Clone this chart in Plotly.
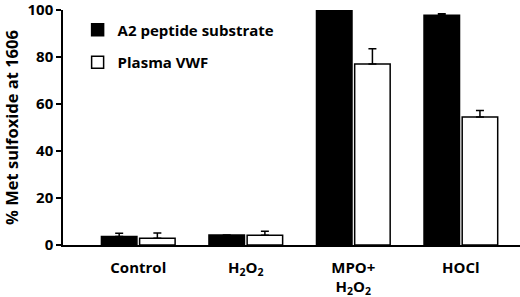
import plotly.graph_objects as go

categories = ["Control", "H<sub>2</sub>O<sub>2</sub>", "MPO+<br>H<sub>2</sub>O<sub>2</sub>", "HOCl"]
a2_values = [3.6, 4.3, 100.0, 97.8]
a2_errors = [1.4, 0.0, 0.0, 0.6]
vwf_values = [2.9, 4.2, 77.0, 54.5]
vwf_errors = [2.2, 1.6, 6.5, 2.7]
y_ticks = [0, 20, 40, 60, 80, 100]

FONT = "Open Sans"

fig = go.Figure()
fig.add_trace(go.Bar(
    x=categories, y=a2_values, name="A2 peptide substrate",
    marker=dict(color="black", line=dict(color="black", width=1.5)),
    error_y=dict(type="data", array=a2_errors, arrayminus=[0]*4, symmetric=False,
                 color="black", thickness=1.5, width=4),
    legendgroup="a",
))
fig.add_trace(go.Bar(
    x=categories, y=vwf_values, name="Plasma VWF",
    marker=dict(color="white", line=dict(color="black", width=1.5)),
    error_y=dict(type="data", array=vwf_errors, arrayminus=[0]*4, symmetric=False,
                 color="black", thickness=1.5, width=4),
    legendgroup="b",
))

fig.update_layout(
    width=520, height=297,
    margin=dict(l=63, r=0, t=10, b=52),
    paper_bgcolor="white", plot_bgcolor="white",
    barmode="group", bargap=0.29, bargroupgap=0.07,
    font=dict(family=FONT, size=15, color="black"),
    showlegend=True,
    legend=dict(x=0.032, y=0.985, xanchor="left", yanchor="top",
                traceorder="grouped", tracegroupgap=10, itemwidth=30,
                font=dict(family=FONT, size=15, color="black", weight="bold"),
                bgcolor="rgba(0,0,0,0)"),
    xaxis=dict(range=[-0.70, 3.55], showline=True, linecolor="black", linewidth=1.5,
               ticks="", tickfont=dict(family=FONT, size=15, color="black", weight="bold"),
               ticklabelstandoff=8, showgrid=False, zeroline=False, automargin=False),
    yaxis=dict(range=[0, 100], tickvals=y_ticks, showline=True, linecolor="black", linewidth=1.5,
               ticks="outside", ticklen=5, tickwidth=1.5, tickcolor="black",
               ticklabeloverflow="allow",
               tickfont=dict(family=FONT, size=15, color="black", weight="bold"),
               showgrid=False, zeroline=False, automargin=False,
               title=dict(text="% Met sulfoxide at 1606", standoff=17,
                          font=dict(family=FONT, size=16.5, color="black", weight="bold"))),
)

fig.write_html("out.html", config={"displayModeBar": False},
               post_script="document.body.style.margin='0';")
